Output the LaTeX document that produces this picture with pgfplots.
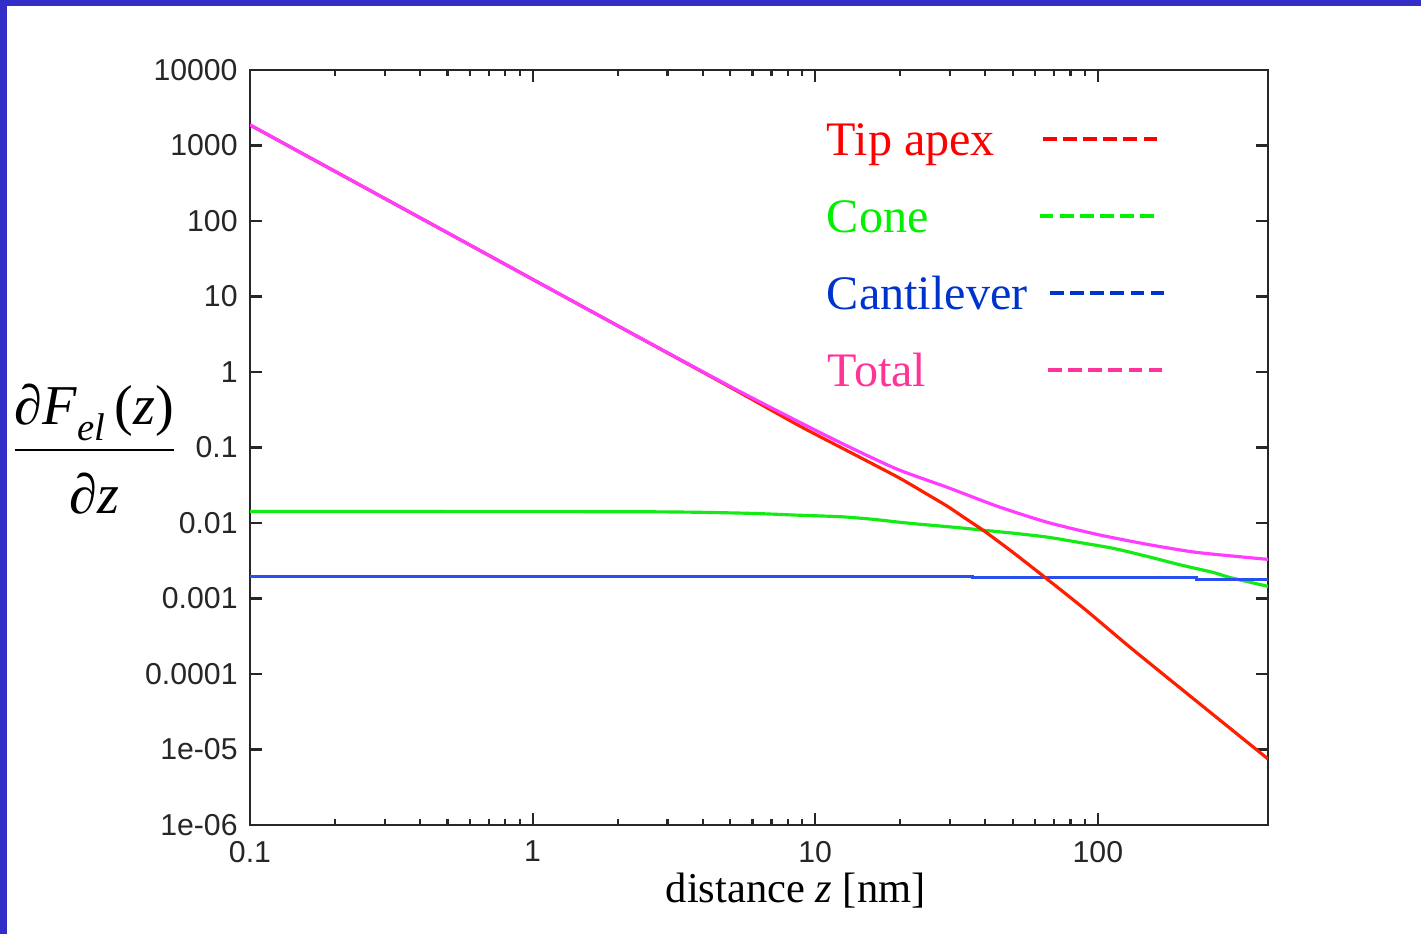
\documentclass[border=0pt]{standalone}
\usepackage{fontspec}
\setmainfont{Liberation Sans}
\newfontfamily\tfont{Liberation Serif}
\usepackage{pgfplots}
\pgfplotsset{compat=1.18}

\definecolor{frameblue}{RGB}{51,46,200}
\definecolor{cred}{RGB}{255,30,0}
\definecolor{cgreen}{RGB}{20,235,20}
\definecolor{cblue}{RGB}{40,80,240}
\definecolor{cmag}{RGB}{255,60,255}
\definecolor{lred}{RGB}{255,0,0}
\definecolor{lgreen}{RGB}{0,240,0}
\definecolor{lblue}{RGB}{0,51,204}
\definecolor{lpink}{RGB}{255,51,153}

\begin{document}
\begin{tikzpicture}
\useasboundingbox (-2.50,-1.09) rectangle (11.71,8.25);
\fill[frameblue] (-2.50,8.19) rectangle (11.71,8.25);
\fill[frameblue] (-2.50,-1.09) rectangle (-2.43,8.25);
\begin{axis}[
  scale only axis,
  width=10.18cm, height=7.55cm,
  xmode=log, ymode=log,
  xmin=0.1, xmax=400, ymin=1e-6, ymax=1e4,
  xtick={0.1,1,10,100}, xticklabels={0.1,1,10,100},
  ytick={1e-6,1e-5,1e-4,1e-3,1e-2,1e-1,1,10,100,1000,10000},
  yticklabels={1e-06,1e-05,0.0001,0.001,0.01,0.1,1,10,100,1000,10000},
  minor y tick style={draw=none},
  major tick length=0.12cm, minor tick length=0.06cm,
  axis line style={line width=0.6pt, black!85},
  every tick/.style={line width=0.6pt, black!85},
  tick label style={font=\fontsize{8.6}{10}\selectfont, text=black!85},
  xticklabel style={yshift=-1pt},
  /pgf/number format/assume math mode=true,
  xlabel={\tfont distance \textit{z} [nm]},
  xlabel style={font=\fontsize{12.1}{14}\selectfont, at={(axis description cs:0.536,-0.087)}, anchor=center},
  ylabel={$\displaystyle\frac{\hbox{∂\textit{F}\raisebox{-0.3em}{\fontsize{11}{12}\selectfont\textit{el}}\,(\textit{z})}}{\hbox{\rule{0pt}{1.05em}∂\textit{z}}}$},
  ylabel style={font=\tfont\fontsize{16}{19}\selectfont, inner sep=0pt, rotate=-90,
    at={(axis description cs:-0.153,0.498)}, anchor=center},
]
\addplot[cgreen, line width=0.9pt, smooth, tension=0.4] coordinates {
  (0.1,0.0142) (2.4,0.0141) (5.6,0.0135) (8.7,0.0127) (12.4,0.0121)
  (16,0.0112) (19.6,0.0103) (23.7,0.0096) (31.9,0.0087) (39.8,0.0080)
  (50.8,0.0073) (66.4,0.0065) (86.7,0.0055) (114,0.0046) (150,0.0036)
  (195,0.0028) (258,0.0022) (293,0.0019) (400,0.00145)};
\addplot[cblue, line width=0.9pt, const plot] coordinates {
  (0.1,0.00197) (36,0.00191) (224,0.00180) (400,0.00180)};
\addplot[cred, line width=0.9pt, smooth, tension=0.4] coordinates {
  (0.1,1870) (0.2,454) (0.5,69.8) (1,16.9) (2,4.10) (5,0.63)
  (8.7,0.198) (13.1,0.089) (19.6,0.0405) (25,0.0238) (29.4,0.0166) (34,0.0115) (39.8,0.00774)
  (50,0.0041) (66.4,0.00179) (90,0.00072) (130,0.000226) (200,0.000061)
  (400,0.0000075)};
\addplot[cmag, line width=0.9pt, smooth, tension=0.4] coordinates {
  (0.1,1875) (0.2,455) (0.5,70) (1,16.9) (2,4.11) (5,0.645)
  (8.7,0.221) (13.1,0.103) (19.6,0.0512) (29.4,0.0296) (44.2,0.0166)
  (66.4,0.0102) (99.5,0.00706) (150,0.00521) (224,0.00408) (400,0.0033)};

% legend
\begin{scope}[font=\tfont\fontsize{13.7}{16}\selectfont]
\node[anchor=base west, inner sep=0pt, text=lred] at (axis description cs:0.566,0.887) {Tip apex};
\node[anchor=base west, inner sep=0pt, text=lgreen] at (axis description cs:0.566,0.785) {Cone};
\node[anchor=base west, inner sep=0pt, text=lblue] at (axis description cs:0.566,0.683) {Cantilever};
\node[anchor=base west, inner sep=0pt, text=lpink] at (axis description cs:0.567,0.581) {Total};
\end{scope}
\begin{scope}[line width=1.2pt, dash pattern=on 0.135cm off 0.066cm]
\draw[lred] (axis description cs:0.779,0.909) -- (axis description cs:0.891,0.909);
\draw[lgreen] (axis description cs:0.776,0.807) -- (axis description cs:0.889,0.807);
\draw[lblue] (axis description cs:0.786,0.705) -- (axis description cs:0.899,0.705);
\draw[lpink] (axis description cs:0.784,0.603) -- (axis description cs:0.897,0.603);
\end{scope}
\end{axis}
\end{tikzpicture}
\end{document}
